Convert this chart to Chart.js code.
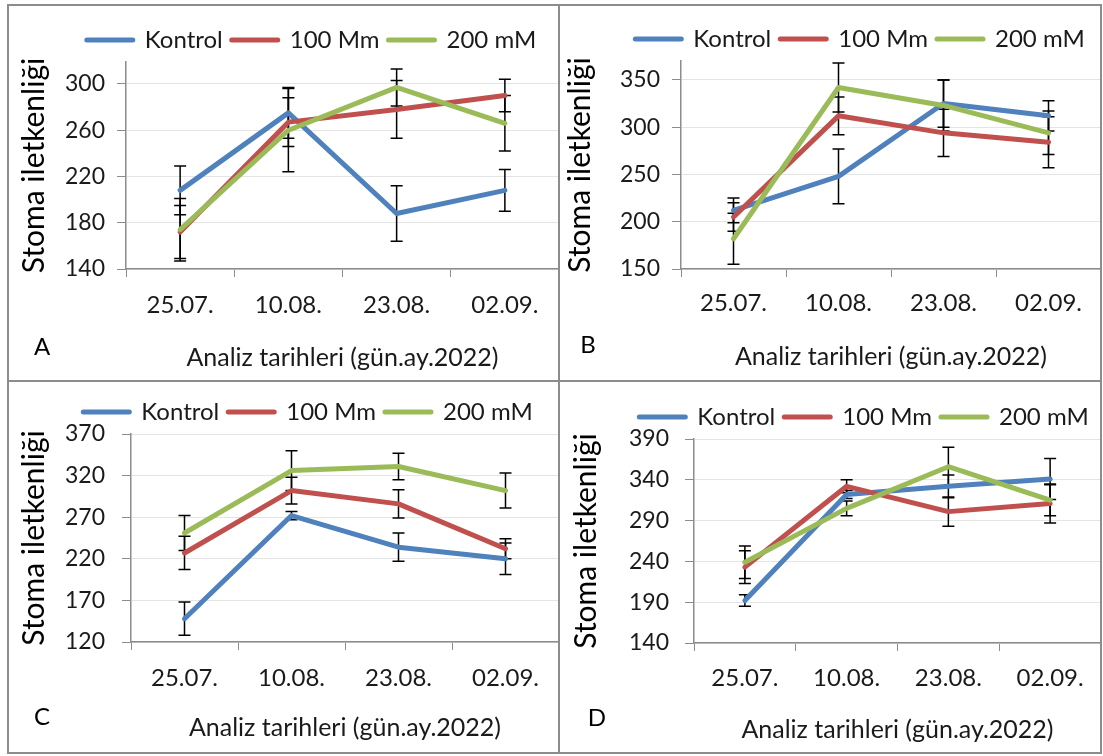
<!DOCTYPE html>
<html lang="tr">
<head>
<meta charset="utf-8">
<title>Stoma iletkenliği</title>
<script src="https://cdn.jsdelivr.net/npm/chart.js@4.4.1/dist/chart.umd.min.js"></script>
<style>
  body { margin: 0; background: #fff; }
  #sahne { position: relative; width: 1103px; height: 756px; overflow: hidden; background: #fff; }
  canvas { position: absolute; }
  .cizgi { position: absolute; background: #8c8c8c; }
</style>
</head>
<body>
<div id="sahne">
  <canvas id="grafikA" width="559" height="381" style="left:0;top:0"></canvas>
  <canvas id="grafikB" width="544" height="381" style="left:559px;top:0"></canvas>
  <canvas id="grafikC" width="559" height="375" style="left:0;top:381px"></canvas>
  <canvas id="grafikD" width="544" height="375" style="left:559px;top:381px"></canvas>
  <div class="cizgi" style="left:7px;top:4px;width:1095px;height:2px"></div>
  <div class="cizgi" style="left:7px;top:752px;width:1095px;height:2px"></div>
  <div class="cizgi" style="left:7px;top:4px;width:2px;height:750px"></div>
  <div class="cizgi" style="left:1100px;top:4px;width:2px;height:750px"></div>
  <div class="cizgi" style="left:558px;top:4px;width:2px;height:750px"></div>
  <div class="cizgi" style="left:7px;top:380px;width:1095px;height:2px"></div>
</div>
<script>
const tarihler = ['25.07.', '10.08.', '23.08.', '02.09.'];
const seriAdlari = ['Kontrol', '100 Mm', '200 mM'];
const renkler = ['#4f81bd', '#c0504d', '#9bbb59'];

// A
const kontrolA = [208, 275, 188, 208];
const mm100A = [172, 267, 278, 290];
const mm200A = [174, 260, 297, 266];
const hataKontrolA = [21, 22, 24, 18];
const hata100A = [23, 21, 25, 14];
const hata200A = [27, 36, 16, 24];
const eksenA = [140, 180, 220, 260, 300];

// B
const kontrolB = [212, 248, 325, 312];
const mm100B = [205, 312, 294, 284];
const mm200B = [182, 342, 323, 294];
const hataKontrolB = [13, 29, 25, 16];
const hata100B = [15, 20, 25, 27];
const hata200B = [27, 26, 27, 23];
const eksenB = [150, 200, 250, 300, 350];

// C
const kontrolC = [148, 272, 234, 220];
const mm100C = [227, 302, 286, 232];
const mm200C = [251, 326, 331, 302];
const hataKontrolC = [20, 5, 17, 19];
const hata100C = [20, 16, 17, 12];
const hata200C = [21, 24, 16, 21];
const eksenC = [120, 170, 220, 270, 320, 370];

// D
const kontrolD = [192, 322, 332, 341];
const mm100D = [233, 332, 301, 311];
const mm200D = [239, 305, 356, 315];
const hataKontrolD = [7, 5, 14, 25];
const hata100D = [20, 8, 18, 24];
const hata200D = [20, 9, 24, 19];
const eksenD = [140, 190, 240, 290, 340, 390];

Chart.defaults.font.family = 'Lato';
Chart.defaults.color = '#1a1a1a';

// hata çubukları (çizgilerin altında)
const hataCubuklari = {
  id: 'hataCubuklari',
  beforeDatasetsDraw(chart) {
    const ctx = chart.ctx;
    const x = chart.scales.x;
    const y = chart.scales.y;
    ctx.save();
    ctx.strokeStyle = '#000';
    ctx.lineWidth = 1.5;
    chart.data.datasets.forEach(ds => {
      ds.data.forEach((v, i) => {
        const e = ds.hatalar[i];
        const px = x.getPixelForValue(i);
        const ust = y.getPixelForValue(v + e);
        const alt = y.getPixelForValue(v - e);
        ctx.beginPath();
        ctx.moveTo(px, ust); ctx.lineTo(px, alt);
        ctx.moveTo(px - 6, ust); ctx.lineTo(px + 6, ust);
        ctx.moveTo(px - 6, alt); ctx.lineTo(px + 6, alt);
        ctx.stroke();
      });
    });
    ctx.restore();
  }
};

// panel harfi
const panelHarfi = {
  id: 'harf',
  afterDraw(chart, args, opts) {
    const ctx = chart.ctx;
    ctx.save();
    ctx.font = '24px Lato';
    ctx.fillStyle = '#000';
    ctx.textAlign = 'center';
    ctx.textBaseline = 'middle';
    ctx.fillText(opts.metin, opts.x, opts.y);
    ctx.restore();
  }
};

function grafik(id, seriler, hatalar, eksen, ayar) {
  const canvas = document.getElementById(id);
  new Chart(canvas, {
    type: 'line',
    data: {
      labels: tarihler,
      datasets: seriler.map((d, i) => ({
        label: seriAdlari[i],
        data: d,
        hatalar: hatalar[i],
        borderColor: renkler[i],
        backgroundColor: renkler[i],
        borderWidth: 5,
        borderCapStyle: 'round',
        borderJoinStyle: 'round',
        pointRadius: 0,
        tension: 0,
        fill: false,
        order: 3 - i
      }))
    },
    options: {
      responsive: false,
      animation: false,
      devicePixelRatio: 1,
      layout: { padding: { left: ayar.sol, top: ayar.ust, right: ayar.sag, bottom: 0 } },
      plugins: {
        tooltip: { enabled: false },
        legend: {
          align: 'center',
          labels: {
            usePointStyle: true,
            pointStyle: 'line',
            pointStyleWidth: 46,
            padding: 9,
            color: '#1a1a1a',
            font: { size: 24 },
            generateLabels: (c) => Chart.defaults.plugins.legend.labels.generateLabels(c)
              .map(l => ({ ...l, lineWidth: 5, lineCap: 'round' })),
            sort: (a, b) => a.datasetIndex - b.datasetIndex
          }
        },
        harf: ayar.harf
      },
      scales: {
        x: {
          offset: true,
          grid: { offset: true, drawOnChartArea: false, tickLength: 8, color: '#8c8c8c' },
          border: { color: '#8c8c8c', width: 1.5 },
          ticks: { font: { size: 24 }, padding: ayar.etiketBosluk, maxRotation: 0, autoSkip: false, color: '#1a1a1a' },
          title: {
            display: true,
            text: 'Analiz tarihleri (gün.ay.2022)',
            font: { size: 25 },
            color: '#1a1a1a',
            padding: { top: 0, bottom: ayar.baslikAlt }
          },
          afterFit: (s) => { s.height = ayar.xYukseklik; }
        },
        y: {
          min: eksen[0],
          max: ayar.yMax,
          afterBuildTicks: (s) => { s.ticks = eksen.map(v => ({ value: v })); },
          afterFit: (s) => { s.width = ayar.yGenislik; },
          grid: { color: '#e4e4e4', tickColor: '#8c8c8c', tickLength: 9 },
          border: { color: '#8c8c8c', width: 1.5 },
          ticks: { font: { size: 23 }, padding: ayar.yBosluk, color: '#1a1a1a' },
          title: {
            display: true,
            text: 'Stoma iletkenliği',
            font: { size: 30 },
            color: '#000',
            padding: { top: ayar.yBaslik, bottom: 0 }
          }
        }
      }
    },
    plugins: [hataCubuklari, panelHarfi]
  });
}

grafik('grafikA', [kontrolA, mm100A, mm200A], [hataKontrolA, hata100A, hata200A], eksenA,
  { sol: 64, ust: 19, sag: 0, yMax: 319, yGenislik: 62, yBosluk: 12, xYukseklik: 112, yBaslik: -48, baslikAlt: 8, etiketBosluk: 13.6, harf: { metin: 'A', x: 42, y: 347 } });
grafik('grafikB', [kontrolB, mm100B, mm200B], [hataKontrolB, hata100B, hata200B], eksenB,
  { sol: 60, ust: 18, sag: 2, yMax: 370, yGenislik: 62, yBosluk: 12, xYukseklik: 112, yBaslik: -57, baslikAlt: 9, etiketBosluk: 11.6, harf: { metin: 'B', x: 29, y: 345 } });
grafik('grafikC', [kontrolC, mm100C, mm200C], [hataKontrolC, hata100C, hata200C], eksenC,
  { sol: 57, ust: 10, sag: 0, yMax: 370, yGenislik: 74, yBosluk: 17, xYukseklik: 114, yBaslik: -41, baslikAlt: 13, etiketBosluk: 13.6, harf: { metin: 'C', x: 42, y: 336 } });
grafik('grafikD', [kontrolD, mm100D, mm200D], [hataKontrolD, hata100D, hata200D], eksenD,
  { sol: 68, ust: 15, sag: 2, yMax: 390, yGenislik: 67, yBosluk: 16, xYukseklik: 113, yBaslik: -58.5, baslikAlt: 11, etiketBosluk: 12.6, harf: { metin: 'D', x: 38, y: 337 } });
</script>
</body>
</html>
